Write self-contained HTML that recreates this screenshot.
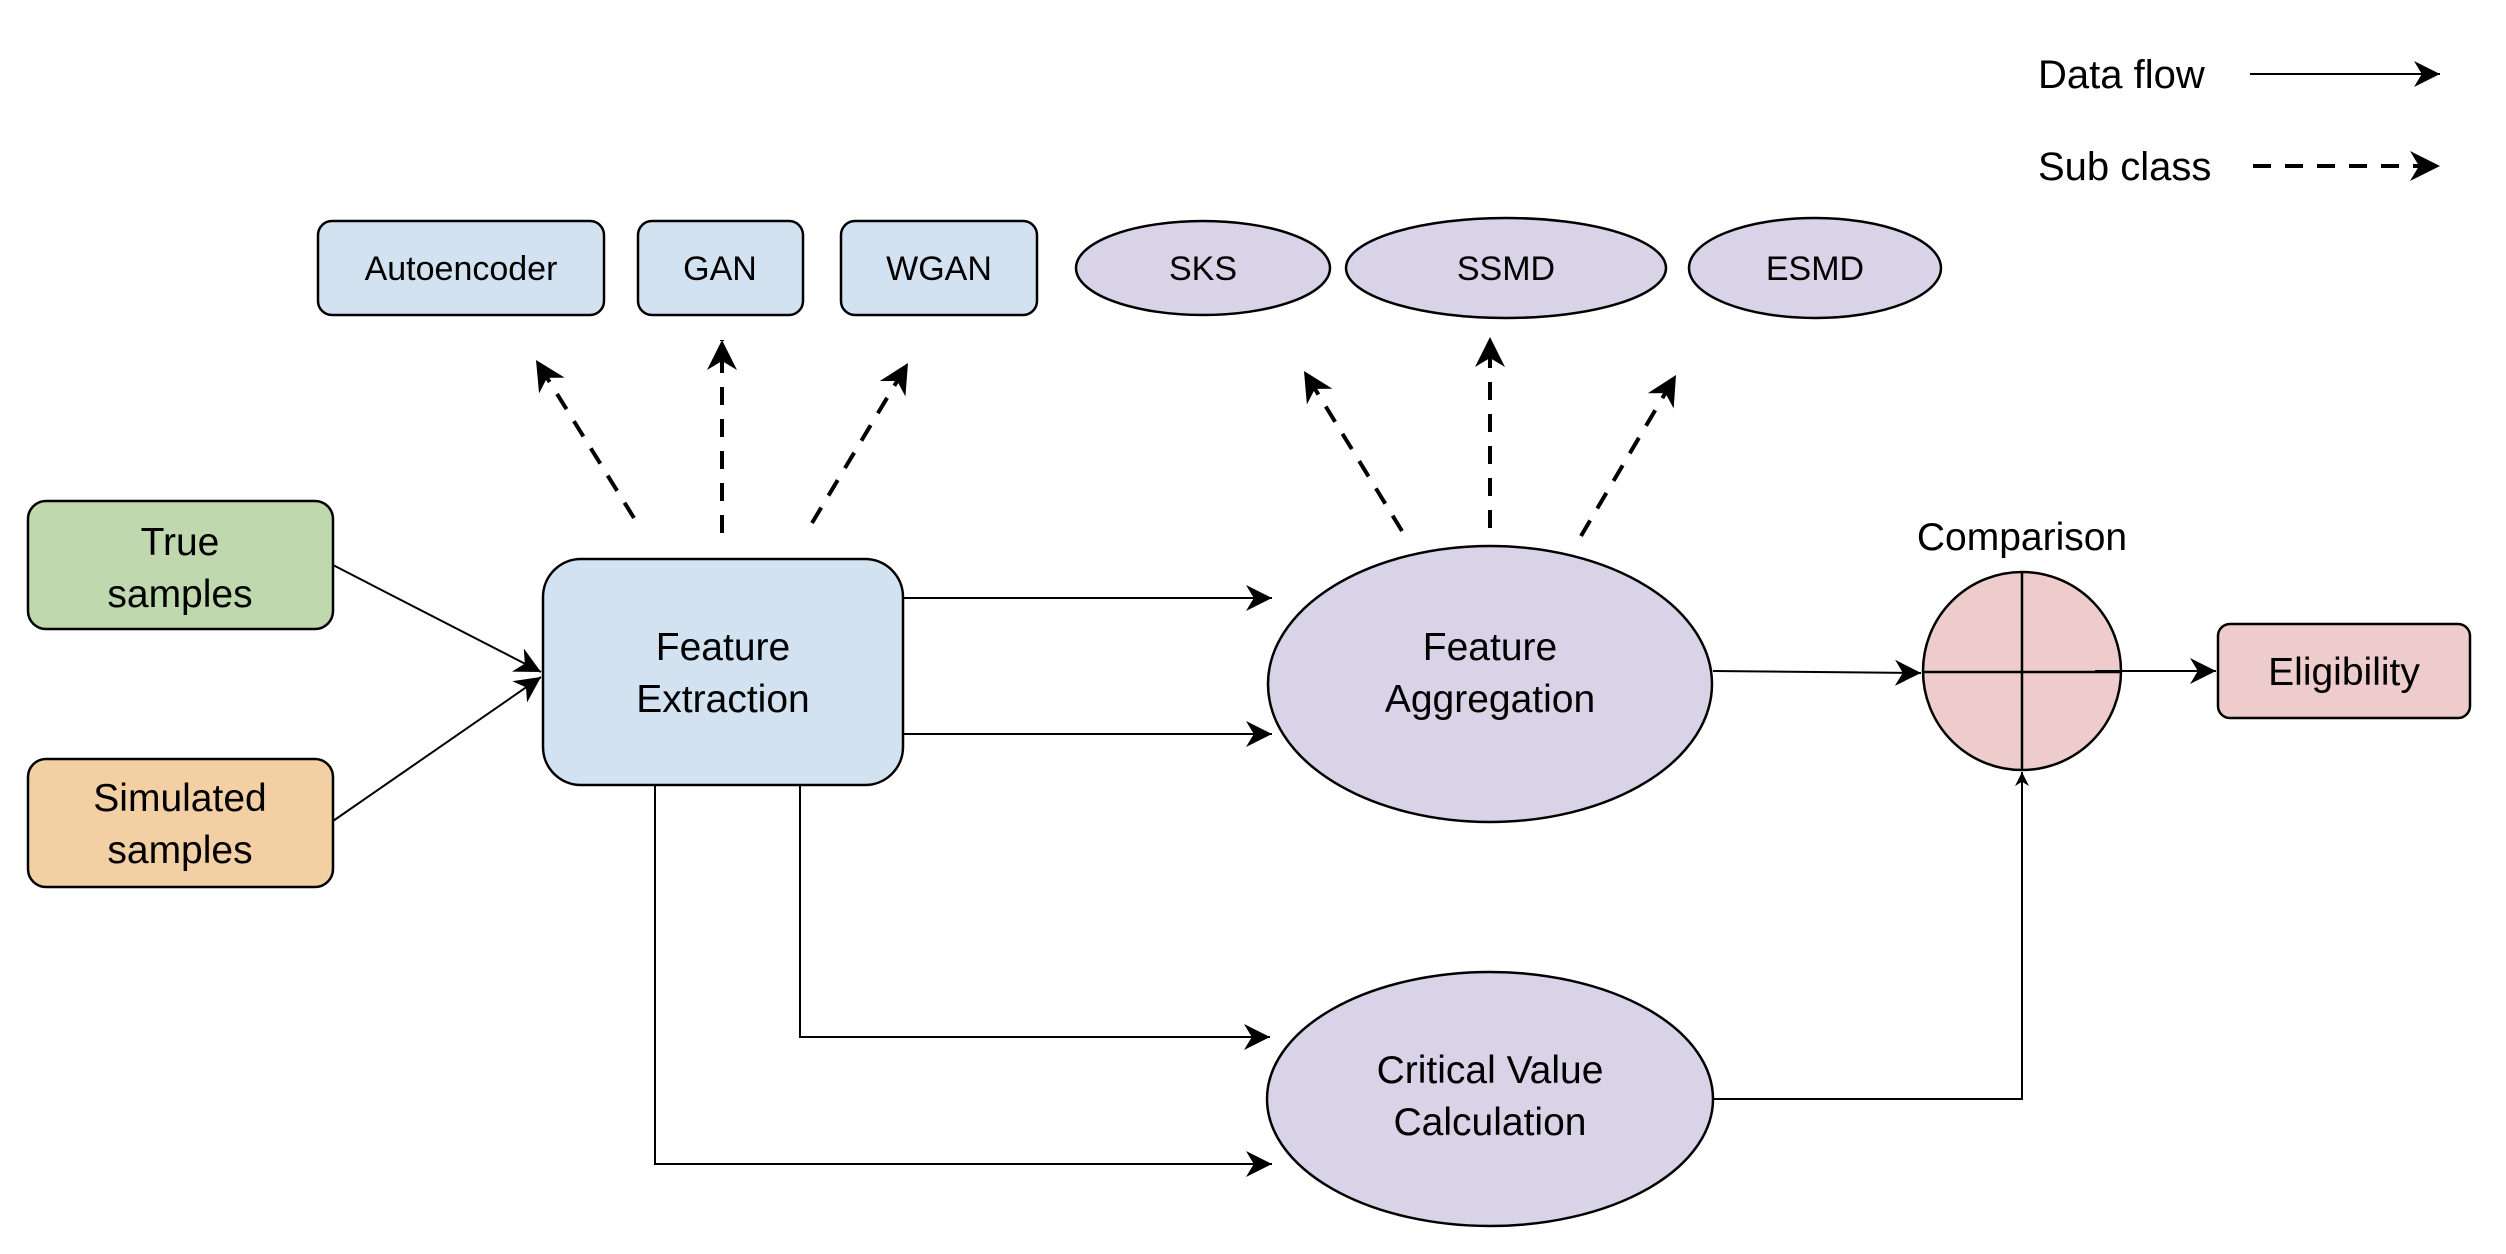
<!DOCTYPE html>
<html><head><meta charset="utf-8"><style>
html,body{margin:0;padding:0;background:#fff;}
svg{display:block;}
text{font-family:"Liberation Sans",Arial,sans-serif;fill:#000;}
</style></head><body>
<svg width="2506" height="1254" viewBox="0 0 2506 1254" xmlns="http://www.w3.org/2000/svg">
<defs>
<marker id="a" viewBox="0 0 10 10" refX="10" refY="5" markerWidth="14" markerHeight="14" markerUnits="userSpaceOnUse" orient="auto"><path d="M0,0 L10,5 L0,10 L3,5 z" fill="#000"/></marker>
<marker id="ab" viewBox="0 0 10 10" refX="10" refY="5" markerWidth="26" markerHeight="26" markerUnits="userSpaceOnUse" orient="auto"><path d="M0,0 L10,5 L0,10 L3,5 z" fill="#000"/></marker>
<marker id="ad" viewBox="0 0 10 10" refX="10" refY="5" markerWidth="30" markerHeight="30" markerUnits="userSpaceOnUse" orient="auto"><path d="M0,0 L10,5 L0,10 L3,5 z" fill="#000"/></marker>
</defs>
<g stroke="#000" stroke-width="2.5">
<rect x="318" y="221" width="286" height="94" rx="14" fill="#d3e2f0"/>
<rect x="638" y="221" width="165" height="94" rx="14" fill="#d3e2f0"/>
<rect x="841" y="221" width="196" height="94" rx="14" fill="#d3e2f0"/>
<ellipse cx="1203" cy="268" rx="127" ry="47" fill="#d8d3e6"/>
<ellipse cx="1506" cy="268" rx="160" ry="50" fill="#d8d3e6"/>
<ellipse cx="1815" cy="268" rx="126" ry="50" fill="#d8d3e6"/>
<rect x="28" y="501" width="305" height="128" rx="18" fill="#bfd8ad"/>
<rect x="28" y="759" width="305" height="128" rx="18" fill="#f3cfa4"/>
<rect x="543" y="559" width="360" height="226" rx="38" fill="#d3e2f0"/>
<ellipse cx="1490" cy="684" rx="222" ry="138" fill="#d8d3e6"/>
<ellipse cx="1490" cy="1099" rx="223" ry="127" fill="#d8d3e6"/>
<ellipse cx="2022" cy="671" rx="99" ry="99" fill="#efcccc"/>
<line x1="2022" y1="572" x2="2022" y2="770"/>
<line x1="1923" y1="672" x2="2122" y2="672"/>
<rect x="2218" y="624" width="252" height="94" rx="12" fill="#efcccc"/>
</g>
<g stroke="#000" stroke-width="2" fill="none">
<line x1="333" y1="565" x2="541" y2="672" marker-end="url(#ab)"/>
<line x1="333" y1="821" x2="541" y2="677" marker-end="url(#ab)"/>
<line x1="903" y1="598" x2="1272" y2="598" marker-end="url(#ab)"/>
<line x1="903" y1="734" x2="1272" y2="734" marker-end="url(#ab)"/>
<polyline points="800,785 800,1037 1270,1037" marker-end="url(#ab)"/>
<polyline points="655,785 655,1164 1272,1164" marker-end="url(#ab)"/>
<line x1="1713" y1="671" x2="1921" y2="673" marker-end="url(#ab)"/>
<line x1="2095" y1="671" x2="2216" y2="671" marker-end="url(#ab)"/>
<polyline points="1713,1099 2022,1099 2022,772" marker-end="url(#a)"/>
<line x1="2250" y1="74" x2="2440" y2="74" marker-end="url(#ab)"/>
</g>
<g stroke="#000" stroke-width="4" fill="none" stroke-dasharray="18,14">
<line x1="634" y1="518" x2="536" y2="360" marker-end="url(#ad)"/>
<line x1="722" y1="533" x2="722" y2="340" marker-end="url(#ad)"/>
<line x1="812" y1="523" x2="908" y2="363" marker-end="url(#ad)"/>
<line x1="1402" y1="531" x2="1304" y2="371" marker-end="url(#ad)"/>
<line x1="1490" y1="528" x2="1490" y2="337" marker-end="url(#ad)"/>
<line x1="1581" y1="536" x2="1676" y2="375" marker-end="url(#ad)"/>
<line x1="2253" y1="166" x2="2440" y2="166" marker-end="url(#ad)"/>
</g>
<g font-size="34" text-anchor="middle">
<text x="461" y="280">Autoencoder</text>
<text x="720" y="280">GAN</text>
<text x="939" y="280">WGAN</text>
<text x="1203" y="280">SKS</text>
<text x="1506" y="280">SSMD</text>
<text x="1815" y="280">ESMD</text>
</g>
<g font-size="39" text-anchor="middle">
<text x="180" y="555">True</text>
<text x="180" y="607">samples</text>
<text x="180" y="811">Simulated</text>
<text x="180" y="863">samples</text>
<text x="723" y="660">Feature</text>
<text x="723" y="712">Extraction</text>
<text x="1490" y="660">Feature</text>
<text x="1490" y="712">Aggregation</text>
<text x="1490" y="1083">Critical Value</text>
<text x="1490" y="1135">Calculation</text>
<text x="2022" y="550">Comparison</text>
<text x="2344" y="685">Eligibility</text>
</g>
<g font-size="40">
<text x="2038" y="88">Data flow</text>
<text x="2038" y="180">Sub class</text>
</g>
</svg>
</body></html>
